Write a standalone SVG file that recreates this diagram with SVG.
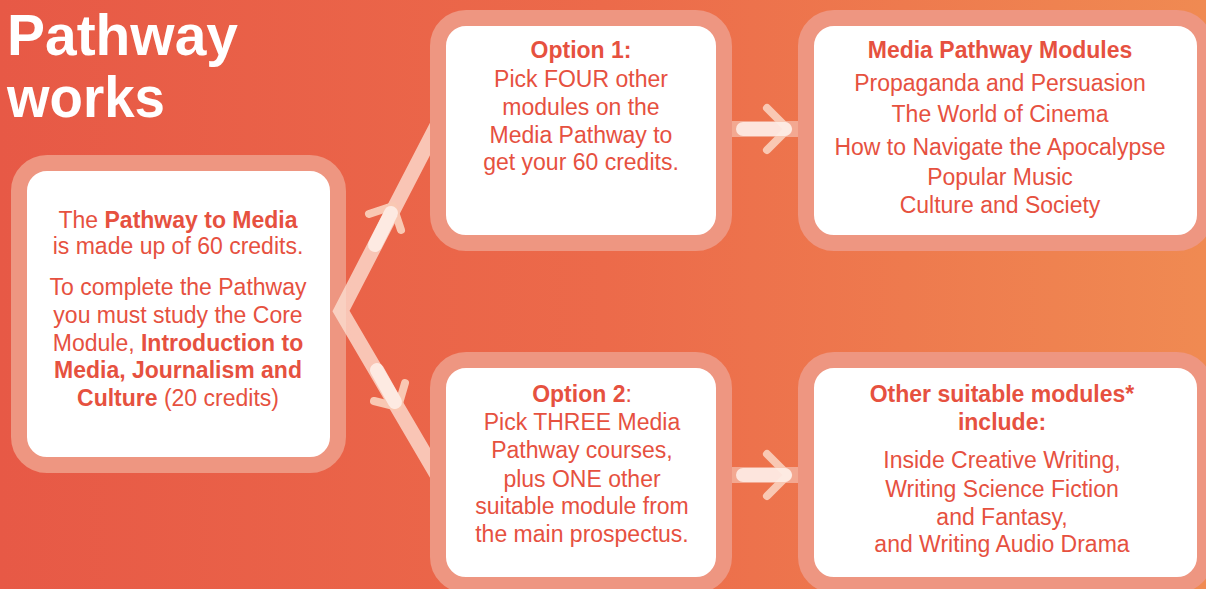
<svg xmlns="http://www.w3.org/2000/svg" width="1206" height="589" viewBox="0 0 1206 589">
  <defs>
    <linearGradient id="bg" x1="0" y1="0" x2="1" y2="0">
      <stop offset="0" stop-color="#E75946"/>
      <stop offset="0.5" stop-color="#EC6A4A"/>
      <stop offset="1" stop-color="#F08A52"/>
    </linearGradient>
    <clipPath id="vclip">
      <rect x="0" y="0" width="430" height="589"/>
    </clipPath>
    <style>
      .box { fill: #FFFFFF; stroke: #EE9681; stroke-width: 16; }
      .txt { font-family: "Liberation Sans", Arial, sans-serif; font-size: 23px; fill: #E6513F; text-anchor: middle; }
      .b { font-weight: bold; }
      .title { font-family: "Liberation Sans", Arial, sans-serif; font-size: 58px; font-weight: bold; fill: #FFFFFF; }
      .vline { fill: none; stroke: #FCE0D4; stroke-opacity: 0.78; stroke-width: 15; stroke-linejoin: miter; }
      .seg { stroke: #FEF0EA; stroke-opacity: 0.85; stroke-width: 14; stroke-linecap: round; fill: none; }
      .chev { fill: none; stroke: #F9C8B3; stroke-width: 8; stroke-linecap: round; stroke-linejoin: round; }
      .band { fill: #F3A891; }
    </style>
  </defs>

  <rect x="0" y="0" width="1206" height="589" fill="url(#bg)"/>

  <g id="title">
    <text class="title" x="7" y="55" textLength="231" lengthAdjust="spacingAndGlyphs">Pathway</text>
    <text class="title" x="7" y="117" textLength="158" lengthAdjust="spacingAndGlyphs">works</text>
  </g>

  <g id="node-core">
    <rect class="box" x="19" y="163" width="319" height="302" rx="28"/>
    <text class="txt" x="178" y="228">The <tspan class="b">Pathway to Media</tspan></text>
    <text class="txt" x="178" y="254">is made up of 60 credits.</text>
    <text class="txt" x="178" y="295">To complete the Pathway</text>
    <text class="txt" x="178" y="323">you must study the Core</text>
    <text class="txt" x="178" y="351">Module, <tspan class="b">Introduction to</tspan></text>
    <text class="txt b" x="178" y="378">Media, Journalism and</text>
    <text class="txt" x="178" y="406"><tspan class="b">Culture</tspan> (20 credits)</text>
  </g>

  <g id="node-option1">
    <rect class="box" x="438" y="18" width="286" height="225" rx="28"/>
    <text class="txt b" x="581" y="58">Option 1:</text>
    <text class="txt" x="581" y="87">Pick FOUR other</text>
    <text class="txt" x="581" y="115">modules on the</text>
    <text class="txt" x="581" y="143">Media Pathway to</text>
    <text class="txt" x="581" y="170">get your 60 credits.</text>
  </g>

  <g id="node-media-modules">
    <rect class="box" x="806" y="18" width="399" height="225" rx="28"/>
    <text class="txt b" x="1000" y="58">Media Pathway Modules</text>
    <text class="txt" x="1000" y="91">Propaganda and Persuasion</text>
    <text class="txt" x="1000" y="122">The World of Cinema</text>
    <text class="txt" x="1000" y="155">How to Navigate the Apocalypse</text>
    <text class="txt" x="1000" y="185">Popular Music</text>
    <text class="txt" x="1000" y="213">Culture and Society</text>
  </g>

  <g id="node-option2">
    <rect class="box" x="438" y="360" width="286" height="225" rx="28"/>
    <text class="txt" x="582" y="402"><tspan class="b">Option 2</tspan>:</text>
    <text class="txt" x="582" y="430">Pick THREE Media</text>
    <text class="txt" x="582" y="458">Pathway courses,</text>
    <text class="txt" x="582" y="487">plus ONE other</text>
    <text class="txt" x="582" y="514">suitable module from</text>
    <text class="txt" x="582" y="542">the main prospectus.</text>
  </g>

  <g id="node-other-modules">
    <rect class="box" x="806" y="360" width="399" height="225" rx="28"/>
    <text class="txt b" x="1002" y="402">Other suitable modules*</text>
    <text class="txt b" x="1002" y="430">include:</text>
    <text class="txt" x="1002" y="468">Inside Creative Writing,</text>
    <text class="txt" x="1002" y="497">Writing Science Fiction</text>
    <text class="txt" x="1002" y="525">and Fantasy,</text>
    <text class="txt" x="1002" y="552">and Writing Audio Drama</text>
  </g>

  <g id="connectors">
    <path class="vline" clip-path="url(#vclip)" d="M 440 119.7 L 341 311 L 440 480"/>
    <polyline class="chev" points="369,214 393,206 401,230"/>
    <line class="seg" x1="375" y1="245" x2="391" y2="213"/>
    <polyline class="chev" points="374,401 398,407 405,383"/>
    <line class="seg" x1="377" y1="370" x2="395" y2="402"/>

    <rect class="band" x="732" y="121" width="66" height="16"/>
    <polyline class="chev" points="767,108 788,129 767,150"/>
    <line class="seg" x1="743" y1="129" x2="785" y2="129"/>

    <rect class="band" x="732" y="467" width="66" height="16"/>
    <polyline class="chev" points="767,454 788,475 767,496"/>
    <line class="seg" x1="743" y1="475" x2="785" y2="475"/>
  </g>
</svg>
